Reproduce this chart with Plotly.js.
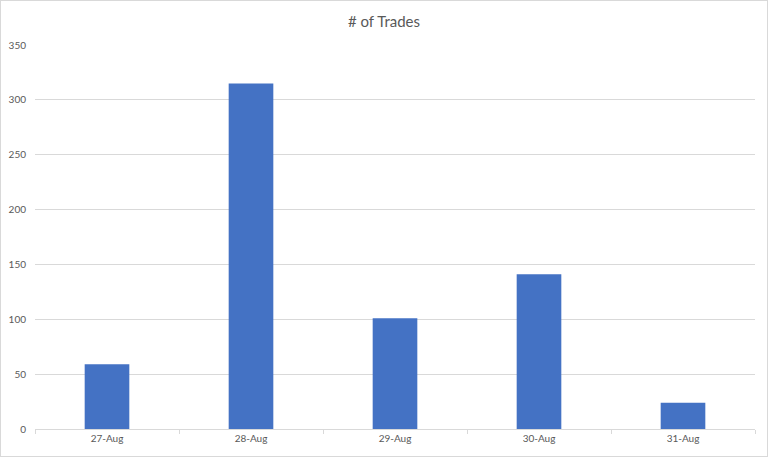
<!DOCTYPE html>
<html>
<head>
<meta charset="utf-8">
<script src="https://cdn.plot.ly/plotly-3.0.1.min.js"></script>
<style>
  html, body { margin: 0; padding: 0; background: #fff; }
  #chart { width: 766px; height: 455px; border: 1px solid #d9d9d9; }
</style>
</head>
<body>
<div id="chart"></div>
<script>
const categories = ["27-Aug", "28-Aug", "29-Aug", "30-Aug", "31-Aug"];
const trades = [59, 315, 101, 141, 24];
const yTicks = [0, 50, 100, 150, 200, 250, 300, 350];

const data = [{
  type: "bar",
  x: categories,
  y: trades,
  marker: { color: "#4472C4" },
  hoverinfo: "x+y"
}];

const layout = {
  width: 766,
  height: 455,
  margin: { l: 34, r: 12, t: 44, b: 27 },
  paper_bgcolor: "#ffffff",
  plot_bgcolor: "#ffffff",
  bargap: 0.69,
  showlegend: false,
  font: { family: "Lato, 'Open Sans', sans-serif", color: "#595959", size: 10 },
  title: {
    text: "# of Trades",
    font: { family: "Lato, 'Open Sans', sans-serif", size: 15, color: "#595959" },
    x: 0.5, xanchor: "center",
    y: 0.955, yanchor: "middle"
  },
  xaxis: {
    type: "category",
    showgrid: false,
    showline: true,
    linecolor: "#d9d9d9",
    linewidth: 1,
    ticks: "outside",
    tickson: "boundaries",
    ticklen: 4,
    tickcolor: "#d9d9d9",
    tickfont: { size: 10, color: "#595959" },
    fixedrange: true
  },
  yaxis: {
    range: [0, 350],
    tickvals: yTicks,
    ticktext: yTicks.map(String),
    showgrid: true,
    gridcolor: "#d9d9d9",
    gridwidth: 1,
    zeroline: false,
    showline: false,
    ticks: "",
    ticklabelstandoff: 8,
    tickfont: { size: 10, color: "#595959" },
    fixedrange: true
  }
};

Plotly.newPlot("chart", data, layout, { displayModeBar: false, staticPlot: true });
</script>
</body>
</html>
